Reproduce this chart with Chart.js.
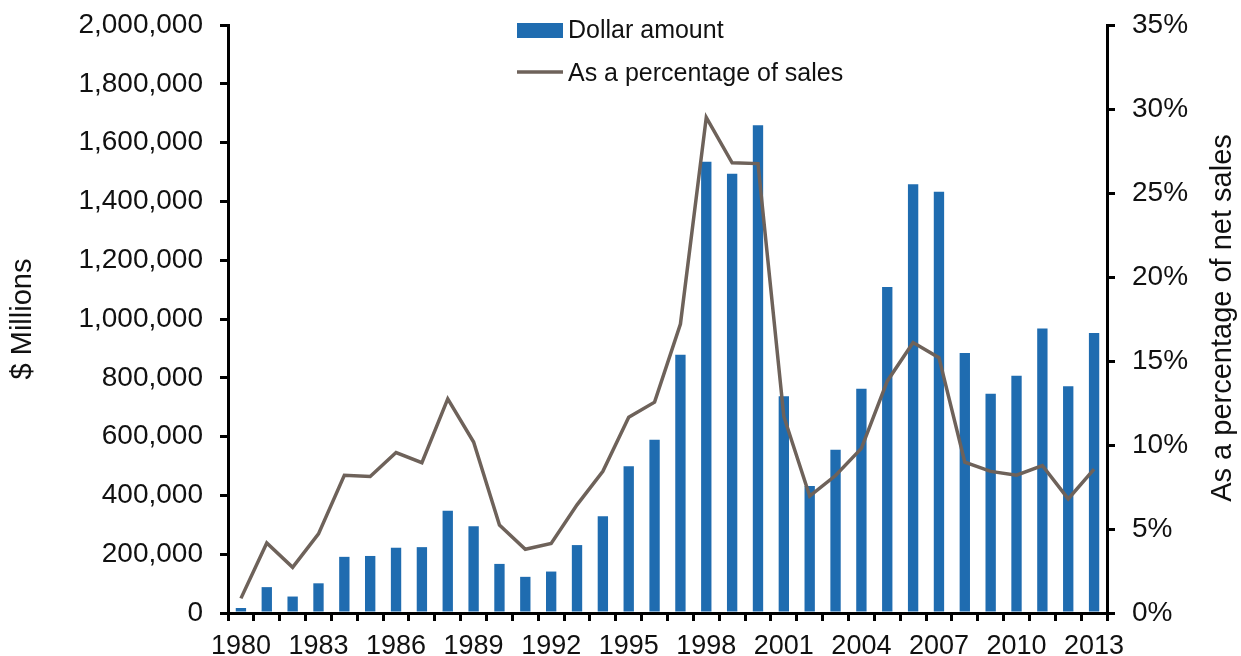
<!DOCTYPE html>
<html>
<head>
<meta charset="utf-8">
<script src="https://cdn.jsdelivr.net/npm/chart.js@4/dist/chart.umd.min.js"></script>
<style>
  html, body { margin: 0; padding: 0; background: #fff; }
  #wrap { width: 1241px; height: 656px; position: relative; }
</style>
</head>
<body>
<div id="wrap"><canvas id="myChart"></canvas></div>
<script>
const years = ['1980','1981','1982','1983','1984','1985','1986','1987','1988','1989',
  '1990','1991','1992','1993','1994','1995','1996','1997','1998','1999',
  '2000','2001','2002','2003','2004','2005','2006','2007','2008','2009',
  '2010','2011','2012','2013'];
// $ millions
const dollarAmount = [17000, 88000, 56000, 101000, 191000, 194000, 222000, 224000, 348000, 295000,
  167000, 123000, 141000, 231000, 329000, 499000, 589000, 878000, 1535000, 1494000,
  1659000, 737000, 432000, 555000, 763000, 1109000, 1458000, 1433000, 884000, 746000,
  807000, 968000, 771000, 952000];
// % of sales
const pctOfSales = [0.87, 4.17, 2.72, 4.71, 8.2, 8.13, 9.55, 8.95, 12.75, 10.18,
  5.24, 3.79, 4.14, 6.44, 8.43, 11.65, 12.55, 17.2, 29.5, 26.8,
  26.75, 11.7, 6.96, 8.18, 9.8, 13.8, 16.1, 15.2, 8.98, 8.43,
  8.2, 8.78, 6.79, 8.56];

const FONT = '"Liberation Sans", Arial, sans-serif';
const barColor = '#1f6cb0';
const lineColor = '#6e625a';
const txt = '#111';

// legend stacked at the top, and right title reading upward
const extras = {
  id: 'extras',
  afterDraw(chart) {
    const ctx = chart.ctx;
    const ds = chart.data.datasets;
    ctx.save();
    ctx.font = '25px ' + FONT;
    ctx.fillStyle = txt;
    ctx.textBaseline = 'middle';
    ctx.textAlign = 'left';
    const lx = 517;
    // bar item
    ctx.fillStyle = barColor;
    ctx.fillRect(lx, 23, 46, 15);
    ctx.fillStyle = txt;
    ctx.fillText(ds[0].label, lx + 51, 31);
    // line item
    ctx.strokeStyle = lineColor;
    ctx.lineWidth = 3.5;
    ctx.beginPath();
    ctx.moveTo(lx, 72);
    ctx.lineTo(lx + 46, 72);
    ctx.stroke();
    ctx.fillText(ds[1].label, lx + 51, 74);

    // right axis title
    ctx.font = '29px ' + FONT;
    ctx.textAlign = 'center';
    ctx.translate(1223, 318);
    ctx.rotate(-Math.PI / 2);
    ctx.fillText('As a percentage of net sales', 0, 0);
    ctx.restore();
  }
};

const fitY = (w) => (scale) => {
  scale.width = w;
  scale.paddingTop = 0;
  scale.paddingBottom = 0;
};

const ctx = document.getElementById('myChart').getContext('2d');
new Chart(ctx, {
  type: 'bar',
  data: {
    labels: years,
    datasets: [
      {
        label: 'Dollar amount',
        data: dollarAmount,
        backgroundColor: barColor,
        yAxisID: 'y',
        categoryPercentage: 1,
        barPercentage: 0.4,
        order: 2
      },
      {
        type: 'line',
        label: 'As a percentage of sales',
        data: pctOfSales,
        borderColor: lineColor,
        backgroundColor: lineColor,
        borderWidth: 3.5,
        pointRadius: 0,
        tension: 0,
        yAxisID: 'y1',
        order: 1
      }
    ]
  },
  options: {
    responsive: true,
    maintainAspectRatio: false,
    animation: false,
    layout: { padding: { top: 25, bottom: 0, left: 0, right: 0 } },
    plugins: {
      legend: { display: false },
      tooltip: { enabled: false }
    },
    scales: {
      x: {
        offset: true,
        grid: {
          offset: true,
          drawOnChartArea: false,
          tickLength: 8,
          tickColor: '#000',
          lineWidth: 3
        },
        border: { color: '#000', width: 3 },
        ticks: {
          autoSkip: false,
          maxRotation: 0,
          padding: 9,
          color: txt,
          font: { family: FONT, size: 27 },
          callback: function (v, i) { return i % 3 === 0 ? years[i] : ''; }
        },
        afterFit: (scale) => { scale.height = 43; }
      },
      y: {
        position: 'left',
        min: 0,
        max: 2000000,
        grid: {
          drawOnChartArea: false,
          tickLength: 8,
          tickColor: '#000',
          lineWidth: 3
        },
        border: { color: '#000', width: 3 },
        ticks: {
          stepSize: 200000,
          padding: 17,
          color: txt,
          font: { family: FONT, size: 28 },
          callback: (v) => v.toLocaleString('en-US')
        },
        title: {
          display: true,
          text: '$ Millions',
          color: txt,
          padding: { top: 6, bottom: 0 },
          font: { family: FONT, size: 29 }
        },
        afterFit: fitY(228)
      },
      y1: {
        position: 'right',
        min: 0,
        max: 35,
        grid: {
          drawOnChartArea: false,
          tickLength: 8,
          tickColor: '#000',
          lineWidth: 3
        },
        border: { color: '#000', width: 3 },
        ticks: {
          stepSize: 5,
          padding: 17,
          color: txt,
          font: { family: FONT, size: 28 },
          callback: (v) => v + '%'
        },
        afterFit: fitY(134)
      }
    }
  },
  plugins: [extras]
});
</script>
</body>
</html>
